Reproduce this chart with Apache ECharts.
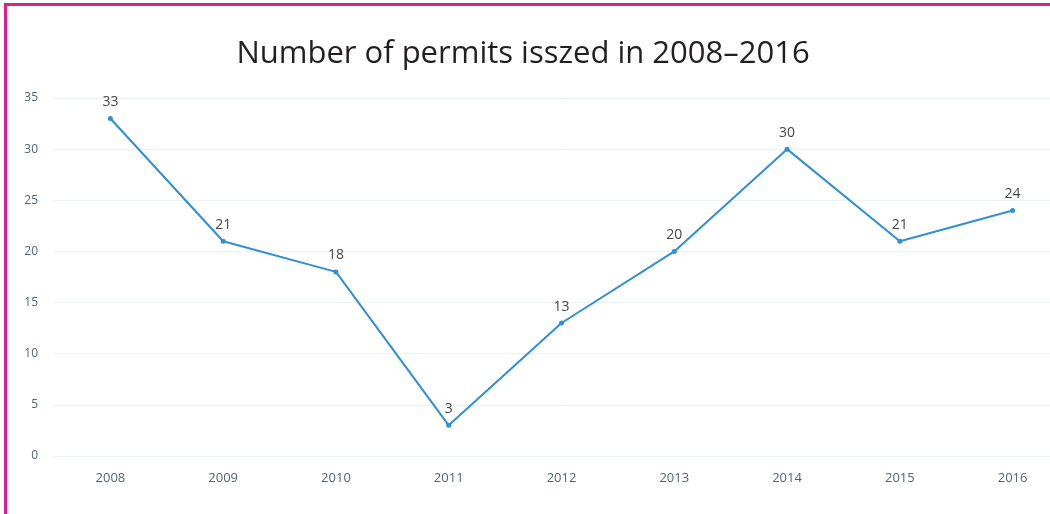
<!DOCTYPE html>
<html>
<head>
<meta charset="utf-8">
<script src="https://cdn.jsdelivr.net/npm/echarts@6/dist/echarts.min.js"></script>
<style>
  html, body { margin: 0; padding: 0; background: #ffffff; overflow: hidden; }
  /* canvas is a little wider than the page so the plot runs off the right edge */
  #chart { width: 1070px; height: 514px; }
</style>
</head>
<body>
<div id="chart"></div>
<script>
// Permits issued per year
const years = ['2008', '2009', '2010', '2011', '2012', '2013', '2014', '2015', '2016'];
const permits = [33, 21, 18, 3, 13, 20, 30, 21, 24];
const yTicks = { min: 0, max: 35, interval: 5 };
const titleText = 'Number of permits isszed in 2008–2016';

const chart = echarts.init(document.getElementById('chart'), null, { renderer: 'canvas' });

chart.setOption({
  backgroundColor: '#ffffff',
  animation: false,
  title: {
    text: titleText,
    left: 518,
    textAlign: 'center',
    top: 34,
    textStyle: {
      fontFamily: 'Open Sans',
      fontSize: 31,
      fontWeight: 'normal',
      color: '#231f20'
    }
  },
  graphic: [
    // frame accent along the top and left edges
    { type: 'rect', left: 4, top: 3, shape: { width: 1066, height: 3 }, style: { fill: '#dc1f8d' } },
    { type: 'rect', left: 4, top: 3, shape: { width: 3, height: 511 }, style: { fill: '#dc1f8d' } }
  ],
  grid: {
    left: 54,
    right: 1,
    top: 98,
    bottom: 58,
    containLabel: false
  },
  xAxis: {
    type: 'category',
    data: years,
    boundaryGap: true,
    axisLine: { show: false },
    axisTick: { show: false },
    axisLabel: {
      margin: 16,
      fontFamily: 'Open Sans',
      fontSize: 13,
      color: '#4f6577'
    },
    splitLine: { show: false }
  },
  yAxis: {
    type: 'value',
    min: yTicks.min,
    max: yTicks.max,
    interval: yTicks.interval,
    axisLine: { show: false },
    axisTick: { show: false },
    axisLabel: {
      margin: 16,
      fontFamily: 'Open Sans',
      fontSize: 12,
      color: '#4f6577'
    },
    splitLine: { lineStyle: { color: '#edf2f7', width: 1 } }
  },
  series: [{
    type: 'line',
    data: permits,
    symbol: 'circle',
    symbolSize: 5,
    lineStyle: { color: '#2f8fd5', width: 2 },
    itemStyle: { color: '#2f8fd5' },
    label: {
      show: true,
      position: 'top',
      distance: 7,
      fontFamily: 'Open Sans',
      fontSize: 14,
      color: '#454545'
    }
  }]
});
</script>
</body>
</html>
